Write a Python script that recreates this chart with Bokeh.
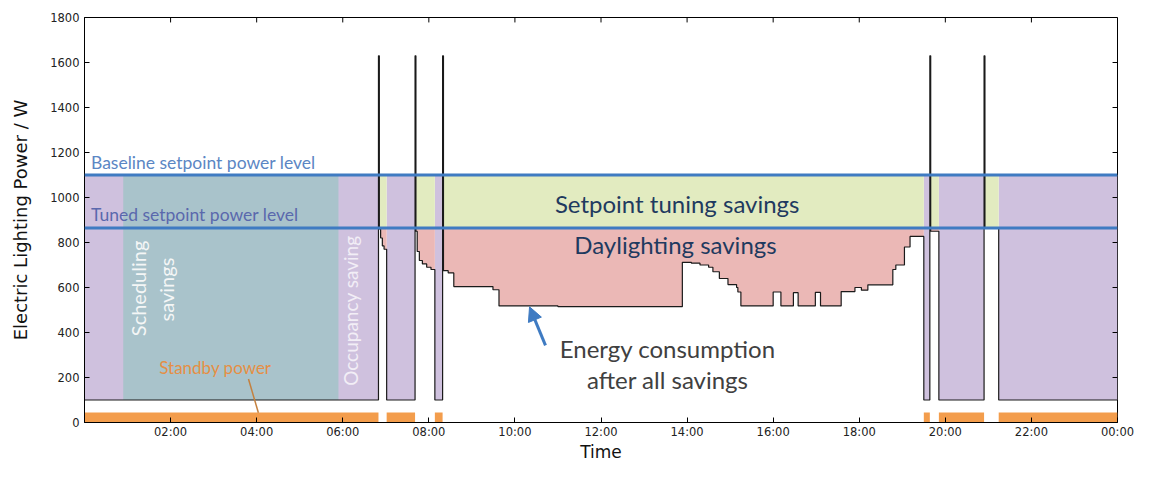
import numpy as np
from bokeh.plotting import figure
from bokeh.models import Label, Span, Arrow, NormalHead, FixedTicker, Range1d
from bokeh.embed import file_html
from bokeh.resources import INLINE

# ---------------- data ----------------
# consumption after all savings (step series, value holds until next time), hours / W
time_h = [0.00, 6.83, 6.85, 6.88, 6.92, 6.96, 7.02,
          7.68, 7.70, 7.73, 7.78, 7.85, 7.95, 8.05, 8.14,
          8.32, 8.34, 8.45, 8.58, 9.49, 9.63, 11.00, 13.89,
          14.10, 14.30, 14.50, 14.60, 14.75, 14.95, 15.15, 15.18, 15.25,
          16.00, 16.18, 16.47, 16.58, 16.98, 17.10, 17.58, 17.90, 18.05,
          18.20, 18.78, 18.85, 19.05, 19.18, 19.50,
          19.64, 19.66, 19.85, 20.90, 20.92, 21.24, 24.00]
power_w = [100, 1630, 860, 820, 785, 770, 100,
           1630, 850, 760, 720, 705, 690, 680, 100,
           1630, 675, 665, 604, 590, 518, 515, 712,
           708, 700, 690, 670, 640, 613, 600, 580, 518,
           580, 518, 577, 518, 578, 518, 582, 600, 588,
           612, 680, 700, 780, 827, 100,
           1630, 850, 100, 1630, 865, 100, 100]

occupied_start = [6.83, 7.68, 8.32, 19.64, 20.90]
occupied_end = [7.02, 8.14, 19.50, 19.85, 21.24]
unoccupied_start = [0.00, 7.02, 8.14, 19.50, 19.85, 21.24]
unoccupied_end = [6.83, 7.68, 8.32, 19.64, 20.90, 24.00]
schedule_start = [0.90]
schedule_end = [5.90]

baseline_level = 1100
tuned_level = 865
standby_level = 45
standby_consumption = 100

x_ticks = [2, 4, 6, 8, 10, 12, 14, 16, 18, 20, 22, 24]
x_tick_labels = ["02:00", "04:00", "06:00", "08:00", "10:00", "12:00",
                 "14:00", "16:00", "18:00", "20:00", "22:00", "00:00"]
y_ticks = [0, 200, 400, 600, 800, 1000, 1200, 1400, 1600, 1800]

# ---------------- colours ----------------
C_PURPLE = "#cfc1de"
C_TEAL = "#a9c3cb"
C_GREEN = "#e2ebc0"
C_PINK = "#ebb8b6"
C_ORANGE = "#f39d4c"
C_BLUE = "#3f7bc2"
C_LINE = "#1a1a1a"
TXT_FONT = "Lato"
AX_FONT = "DejaVu Sans"

X_MIN, X_MAX = 0, 24
Y_MIN, Y_MAX = 0, 1800

# ---------------- step expansion ----------------
t = np.array(time_h, dtype=float)
c = np.array(power_w, dtype=float)
xs, ys, occ = [], [], []
for i in range(len(t) - 1):
    mid = 0.5 * (t[i] + t[i + 1])
    is_occ = any(s <= mid <= e for s, e in zip(occupied_start, occupied_end))
    xs += [t[i], t[i + 1]]
    ys += [c[i], c[i]]
    occ += [is_occ, is_occ]
xs = np.array(xs)
ys = np.array(ys)
occ = np.array(occ)
pink_lo = np.minimum(ys, tuned_level)
pink_hi = np.where(occ, tuned_level, pink_lo)

# ---------------- figure ----------------
p = figure(width=1135, height=464, output_backend="svg", toolbar_location=None,
           x_range=Range1d(X_MIN, X_MAX), y_range=Range1d(Y_MIN, Y_MAX),
           min_border_left=84, min_border_right=18, min_border_top=17, min_border_bottom=30)
p.xgrid.visible = False
p.ygrid.visible = False
p.outline_line_color = "black"
p.outline_line_width = 1
p.background_fill_color = "white"
p.border_fill_color = "white"

# fills
p.quad(left=unoccupied_start, right=unoccupied_end, bottom=standby_consumption, top=baseline_level,
       fill_color=C_PURPLE, line_color=None)
p.quad(left=schedule_start, right=schedule_end, bottom=standby_consumption, top=baseline_level,
       fill_color=C_TEAL, line_color=None)
p.quad(left=occupied_start, right=occupied_end, bottom=tuned_level, top=baseline_level,
       fill_color=C_GREEN, line_color=None)
p.varea(x=xs, y1=pink_lo, y2=pink_hi, fill_color=C_PINK)
p.quad(left=unoccupied_start, right=unoccupied_end, bottom=0, top=standby_level,
       fill_color=C_ORANGE, line_color=None)

# setpoint levels
p.add_layout(Span(location=baseline_level, dimension="width", line_color=C_BLUE, line_width=3))
p.add_layout(Span(location=tuned_level, dimension="width", line_color=C_BLUE, line_width=3))

# consumption
p.line(xs, ys, line_color=C_LINE, line_width=1.2)

# inward ticks on top and right edges (matplotlib style box)
p.segment(x0=x_ticks, y0=[Y_MAX] * len(x_ticks), x1=x_ticks, y1=[Y_MAX - 22] * len(x_ticks),
          line_color="black", line_width=1)
p.segment(x0=[X_MAX] * len(y_ticks), y0=y_ticks, x1=[X_MAX - 0.115] * len(y_ticks), y1=y_ticks,
          line_color="black", line_width=1)

# ---------------- axes ----------------
xa = p.xaxis[0]
xa.ticker = FixedTicker(ticks=x_ticks)
xa.major_label_overrides = {k: v for k, v in zip(x_ticks, x_tick_labels)}
ya = p.yaxis[0]
ya.ticker = FixedTicker(ticks=y_ticks)
for ax in (xa, ya):
    ax.major_tick_in = 5
    ax.major_tick_out = 0
    ax.minor_tick_line_color = None
    ax.major_label_text_font = AX_FONT
    ax.major_label_text_font_size = "11.5px"
    ax.major_label_text_color = "#222222"
    ax.axis_label_text_font = AX_FONT
    ax.axis_label_text_font_style = "normal"
    ax.axis_label_text_color = "#111111"
    ax.axis_line_color = "black"
xa.axis_label = "Time"
xa.axis_label_text_font_size = "17px"
xa.major_label_standoff = 2
xa.axis_label_standoff = 0
ya.axis_label = "Electric Lighting Power / W"
ya.axis_label_text_font_size = "18px"
ya.major_label_standoff = 5
ya.axis_label_standoff = 16

# ---------------- annotations ----------------
def lab(x, y, text, size, color, align="left", angle=0.0, baseline="middle"):
    p.add_layout(Label(x=x, y=y, text=text, text_font=TXT_FONT, text_font_size=size,
                       text_color=color, text_align=align, text_baseline=baseline,
                       angle=angle))

lab(0.15, 1157, "Baseline setpoint power level", "17.5px", "#5b86c4")
lab(0.15, 926, "Tuned setpoint power level", "17.5px", "#5a68ad")
lab(13.77, 975, "Setpoint tuning savings", "24px", "#1f3a5f", align="center")
lab(13.73, 793, "Daylighting savings", "24px", "#1f3a5f", align="center")
lab(13.55, 328, "Energy consumption", "24px", "#404040", align="center")
lab(13.55, 191, "after all savings", "24px", "#404040", align="center")
lab(1.25, 596, "Scheduling", "20px", "#f4f6f6", align="center", angle=np.pi / 2)
lab(1.90, 591, "savings", "20px", "#f4f6f6", align="center", angle=np.pi / 2)
lab(6.17, 497, "Occupancy saving", "19px", "#f2eef6", align="center", angle=np.pi / 2)
lab(3.04, 244, "Standby power", "17px", "#e58f45", align="center")

p.line([3.81, 4.04], [193, 43], line_color="#c4803e", line_width=1.5)
p.add_layout(Arrow(end=NormalHead(size=14, fill_color=C_BLUE, line_color=C_BLUE),
                   x_start=10.71, y_start=343, x_end=10.34, y_end=514,
                   line_color=C_BLUE, line_width=3))

open("out.html", "w").write(file_html(p, INLINE))
